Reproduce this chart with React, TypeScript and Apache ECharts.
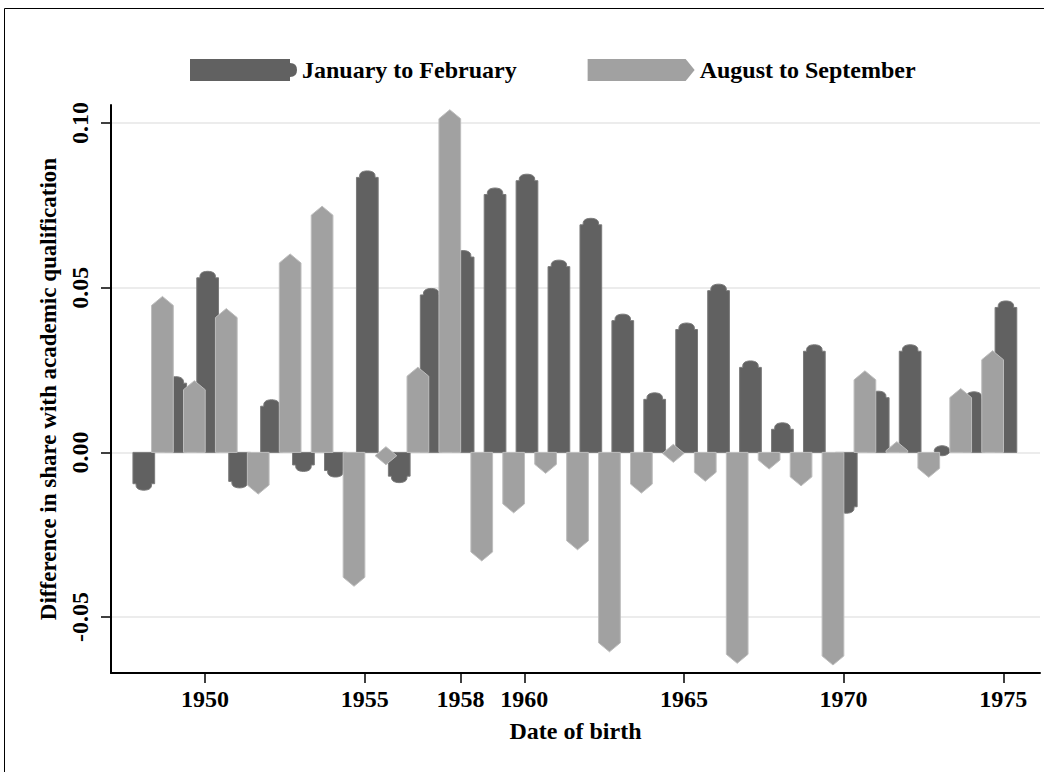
import React, { useEffect, useRef } from "react";
import * as echarts from "echarts";

const years = [
  1948, 1949, 1950, 1951, 1952, 1953, 1954, 1955, 1956, 1957, 1958, 1959, 1960, 1961,
  1962, 1963, 1964, 1965, 1966, 1967, 1968, 1969, 1970, 1971, 1972, 1973, 1974, 1975,
];
const janFeb = [
  -0.0105, 0.022, 0.054, -0.0098, 0.015, -0.0048, -0.0065, 0.0845, -0.0082, 0.0488, 0.0603,
  0.0793, 0.0835, 0.0574, 0.0701, 0.041, 0.0171, 0.0383, 0.0501, 0.0268, 0.008, 0.0317,
  -0.0175, 0.0176, 0.0317, 0.0005, 0.0174, 0.045,
];
const augSep: (number | null)[] = [
  0.046, 0.0204, 0.0423, -0.0113, 0.0589, 0.0734, -0.0393, -0.001, 0.0245, 0.1027, -0.0316,
  -0.017, -0.005, -0.0282, -0.0592, -0.011, -0.0003, -0.0074, -0.0627, -0.0037, -0.0088,
  -0.0632, 0.0234, 0.0019, -0.0062, 0.018, 0.0295, null,
];
const xTicks = [1950, 1955, 1958, 1960, 1965, 1970, 1975];
const yTicks = [-0.05, 0, 0.05, 0.1];
const seriesNames = ["January to February", "August to September"];

// position within the year of each two-month window (midpoint)
const JAN_OFFSET = 1 / 12;
const AUG_OFFSET = 8 / 12;
const BAR_W = 0.68; // years

const FONT = '"Liberation Serif", "Times New Roman", serif';
const DARK = "#616161";
const LIGHT = "#a1a1a1";

function makeRender(kind: "dark" | "light") {
  return (params: any, api: any) => {
    const x = api.value(0);
    const v = api.value(1);
    if (v == null || isNaN(v)) return;
    const b = api.coord([x, 0]);
    const t = api.coord([x, v]);
    const w = api.size([BAR_W, 0])[0];
    const cx = b[0];
    const y0 = b[1];
    const yv = t[1];
    const s = yv <= y0 ? -1 : 1;
    const fill = kind === "dark" ? DARK : LIGHT;
    const stroke = kind === "dark" ? "#7a7a7a" : "#bdbdbd";
    const hw = w / 2;
    const pts: number[][] = [];
    if (kind === "light") {
      const cap = 9;
      const half = cap / 2;
      if (Math.abs(yv - y0) < half) {
        pts.push([cx, yv - cap], [cx + hw, yv], [cx, yv + cap], [cx - hw, yv]);
      } else {
        const sh = yv - s * half;
        const tip = yv + s * half;
        pts.push([cx - hw, y0], [cx - hw, sh], [cx, tip], [cx + hw, sh], [cx + hw, y0]);
      }
    } else {
      const cap = 6.5;
      const half = cap / 2;
      const dw = w * 0.36;
      const N = 12;
      if (Math.abs(yv - y0) < half) {
        for (let k = 0; k < 2 * N; k++) {
          const a = (Math.PI * k) / N;
          pts.push([cx + dw * Math.cos(a), yv + 5 * Math.sin(a)]);
        }
      } else {
        const sh = yv - s * half;
        pts.push([cx - hw, y0], [cx - hw, sh], [cx - dw, sh]);
        for (let k = 1; k < N; k++) {
          const a = (Math.PI * k) / N;
          const sn = Math.pow(Math.sin(a), 0.6);
          pts.push([cx - dw * Math.cos(a), sh + s * cap * sn]);
        }
        pts.push([cx + dw, sh], [cx + hw, sh], [cx + hw, y0]);
      }
    }
    return {
      type: "polygon",
      shape: { points: pts },
      style: { fill, stroke, lineWidth: 1 },
    };
  };
}

export default function App() {
  const ref = useRef<HTMLDivElement>(null);
  useEffect(() => {
    const chart = echarts.init(ref.current!, null, { renderer: "svg" });
    const darkData = years.map((y, i) => [y + JAN_OFFSET, janFeb[i]]);
    const lightData = years
      .map((y, i) => [y + AUG_OFFSET, augSep[i]])
      .filter((d) => d[1] != null);
    const option: any = {
      animation: false,
      backgroundColor: "#ffffff",
      textStyle: { fontFamily: FONT },
      grid: { left: 111, right: 4, top: 105, bottom: 99, containLabel: false },
      legend: {
        left: 190,
        top: 58,
        itemWidth: 107,
        itemHeight: 22,
        itemGap: 71,
        padding: 0,
        textStyle: { fontFamily: FONT, fontWeight: "bold", fontSize: 24, color: "#000" },
        data: [
          {
            name: seriesNames[0],
            icon: "path://M0,0 L100,0 L100,4 Q107,4 107,11 Q107,18 100,18 L100,22 L0,22 Z",
          },
          { name: seriesNames[1], icon: "path://M0,0 L98,0 L107,11 L98,22 L0,22 Z" },
        ],
      },
      graphic: [
        {
          type: "rect",
          shape: { x: 4.5, y: 8.5, width: 1100, height: 800 },
          style: { fill: "none", stroke: "#000", lineWidth: 1 },
          silent: true,
          z: 100,
        },
      ],
      xAxis: {
        type: "value",
        min: 1947.056,
        max: 1976.15,
        name: "Date of birth",
        nameLocation: "middle",
        nameGap: 46,
        nameTextStyle: { fontFamily: FONT, fontWeight: "bold", fontSize: 24, color: "#000" },
        axisLine: { show: true, onZero: false, lineStyle: { color: "#000", width: 2 } },
        axisTick: {
          show: true,
          length: 10,
          customValues: xTicks,
          lineStyle: { color: "#000", width: 1.5 },
        },
        axisLabel: {
          customValues: xTicks,
          margin: 14,
          fontFamily: FONT,
          fontWeight: "bold",
          fontSize: 24,
          color: "#000",
          formatter: (v: number) => String(Math.round(v)),
        },
        splitLine: { show: false },
      },
      yAxis: {
        type: "value",
        min: -0.067,
        max: 0.1055,
        name: "Difference in share with academic qualification",
        nameLocation: "middle",
        nameRotate: 90,
        nameGap: 48,
        nameTextStyle: { fontFamily: FONT, fontWeight: "bold", fontSize: 23, color: "#000" },
        axisLine: { show: true, lineStyle: { color: "#000", width: 2 } },
        axisTick: {
          show: true,
          length: 10,
          customValues: yTicks,
          lineStyle: { color: "#000", width: 1.5 },
        },
        axisLabel: {
          customValues: yTicks,
          rotate: 90,
          margin: 19,
          fontFamily: FONT,
          fontWeight: "bold",
          fontSize: 24,
          color: "#000",
          formatter: (v: number) => v.toFixed(2),
        },
        splitLine: { show: true, lineStyle: { color: "#e6e6e6", width: 1.5 } },
      },
      series: [
        {
          name: seriesNames[0],
          type: "custom",
          renderItem: makeRender("dark"),
          itemStyle: { color: DARK },
          encode: { x: 0, y: 1 },
          data: darkData,
          z: 2,
        },
        {
          name: seriesNames[1],
          type: "custom",
          renderItem: makeRender("light"),
          itemStyle: { color: LIGHT },
          encode: { x: 0, y: 1 },
          data: lightData,
          z: 3,
        },
      ],
    };
    chart.setOption(option);
    return () => chart.dispose();
  }, []);
  return (
    <div
      ref={ref}
      style={{ position: "absolute", left: 0, top: 0, width: 1044, height: 772, background: "#fff" }}
    />
  );
}
